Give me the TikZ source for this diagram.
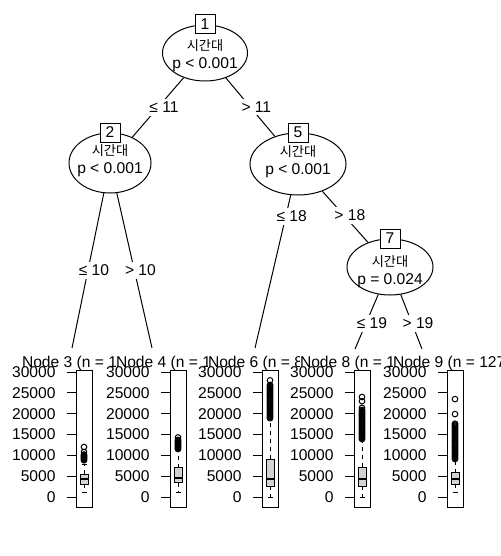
\documentclass[tikz,border=0pt]{standalone}
\usepackage{fontspec}
\setmainfont{Liberation Sans}
\newfontfamily\kr{Noto Sans CJK KR}
\usetikzlibrary{shapes.geometric}
\definecolor{boxgray}{HTML}{D3D3D3}

\begin{document}
\begin{tikzpicture}[
        x=0.5pt, y=-0.5pt, line width=0.5pt, % 1 px = 0.5pt, ось y вниз
        every node/.style={font=\fontsize{7.8}{9}\selectfont},
        split/.style={ellipse, draw, fill=white, inner sep=0pt}, % Внутренние узлы
        nr/.style={draw, fill=white, minimum width=10pt, minimum height=9.5pt, inner sep=0pt},
        kant/.style={fill=white, inner sep=1.5pt, xshift=3pt}, % Подписи рёбер
        panel/.style={draw, minimum width=8pt, minimum height=68.5pt, inner sep=0pt},
        whisk/.style={dash pattern=on 2pt off 2pt},
    ]
    \useasboundingbox (0,0) rectangle (500,556);

    % Внутренние узлы
    \node[split, minimum width=42.5pt, minimum height=28pt] (n1) at (205,53) {};
    \node[split, minimum width=41pt, minimum height=30pt] (n2) at (110,163) {};
    \node[split, minimum width=48pt, minimum height=31pt] (n5) at (298,164) {};
    \node[split, minimum width=43pt, minimum height=28pt] (n7) at (390,267) {};
    \foreach \n/\y/\p in {1/56/p < 0.001, 2/161/p < 0.001, 5/162/p < 0.001, 7/272/p = 0.024} {
        \node[nr] (b\n) at (n\n.north) {\n};
        \node[align=center] (s\n) at (n\n.center |- 0,\y) {{\kr\fontsize{6.6}{9}\selectfont 시간대}\\\p};
    }

    % Концы рёбер у терминальных узлов
    \coordinate (t3) at (72,348);
    \coordinate (t4) at (152,348);
    \coordinate (t6) at (255,348);
    \coordinate (t8) at (355,349);
    \coordinate (t9) at (422,349);

    % Рёбра
    \draw (n1) -- node[kant, pos=.5] (e2) {≤ 11} (n2);
    \draw (n1) -- node[kant, pos=.5] (e5) {> 11} (n5);
    \draw (n2) -- node[kant, pos=.5] (e3) {≤ 10} (t3);
    \draw (n2) -- node[kant, pos=.5] (e4) {> 10} (t4);
    \draw (n5) -- node[kant, pos=.14] (e6) {≤ 18} (t6);
    \draw (n5) -- node[kant, pos=.47] (e7) {> 18} (n7);
    \draw (n7) -- node[kant, pos=.53] (e8) {≤ 19} (t8);
    \draw (n7) -- node[kant, pos=.53] (e9) {> 19} (t9);

    % Терминальные узлы: заголовок, рамка, ось
    \foreach \L/\n/\c/\R in {76/3/1/115.5, 170/4/1/207.5, 262/6/8/299.5, 354/8/1/392.5, 447/9/127/500} {
        \begin{scope}
            \clip (\L-54.5,340) rectangle (\R,370);
            \node[anchor=base west, inner sep=0pt] (l\n) at (\L-54.5,367) {Node \n\ (n = \c};
        \end{scope}
        \node[panel] (p\n) at (\L+8,438.5) {};
        \foreach \k/\v in {0/0, 5/5000, 10/10000, 15/15000, 20/20000, 25/25000, 30/30000}
            \draw (\L,{497-\k*125/30}) -- ++(-9,0) node[anchor=east, inner sep=0pt, xshift=-5.5pt] (a\n-\k) {\v};
    }

    % Ящики с усами (в тысячах)
    \foreach \L/\lw/\qa/\md/\qb/\uw in {76/1.2/3.1/4.3/5.5/7.7, 170/1.2/3.4/4.6/7.0/11.3,
            262/0/2.6/4.3/9.1/18.7, 354/0/2.6/4.3/7.2/13.7, 447/1.2/3.1/4.3/5.8/8.9} {
        \draw[whisk] (\L+8,{497-\qa*125/30}) -- (\L+8,{497-\lw*125/30});
        \draw[whisk] (\L+8,{497-\qb*125/30}) -- (\L+8,{497-\uw*125/30});
        \draw (\L+5.5,{497-\lw*125/30}) -- (\L+10.5,{497-\lw*125/30});
        \draw (\L+5.5,{497-\uw*125/30}) -- (\L+10.5,{497-\uw*125/30});
        \draw[fill=boxgray] (\L+4,{497-\qa*125/30}) rectangle (\L+12,{497-\qb*125/30});
        \draw[line width=1pt] (\L+4,{497-\md*125/30}) -- (\L+12,{497-\md*125/30});
    }

    % Выбросы
    \foreach \o in {8.8,9.0,...,10.2} \draw (84,{497-\o*125/30}) circle[radius=2.8];
    \foreach \o in {10.8,12.0} \draw (84,{497-\o*125/30}) circle[radius=2.8];
    \foreach \o in {11.5,11.7,...,13.7} \draw (178,{497-\o*125/30}) circle[radius=2.8];
    \foreach \o in {14.3} \draw (178,{497-\o*125/30}) circle[radius=2.8];
    \foreach \o in {18.9,19.15,...,27.1} \draw (270,{497-\o*125/30}) circle[radius=2.8];
    \foreach \o in {28.0} \draw (270,{497-\o*125/30}) circle[radius=2.8];
    \foreach \o in {13.9,14.15,...,20.9} \draw (362,{497-\o*125/30}) circle[radius=2.8];
    \foreach \o in {21.4,23.0,24.0} \draw (362,{497-\o*125/30}) circle[radius=2.8];
    \foreach \o in {9.1,9.35,...,17.7} \draw (455,{497-\o*125/30}) circle[radius=2.8];
    \foreach \o in {19.9,23.5} \draw (455,{497-\o*125/30}) circle[radius=2.8];
\end{tikzpicture}
\end{document}
